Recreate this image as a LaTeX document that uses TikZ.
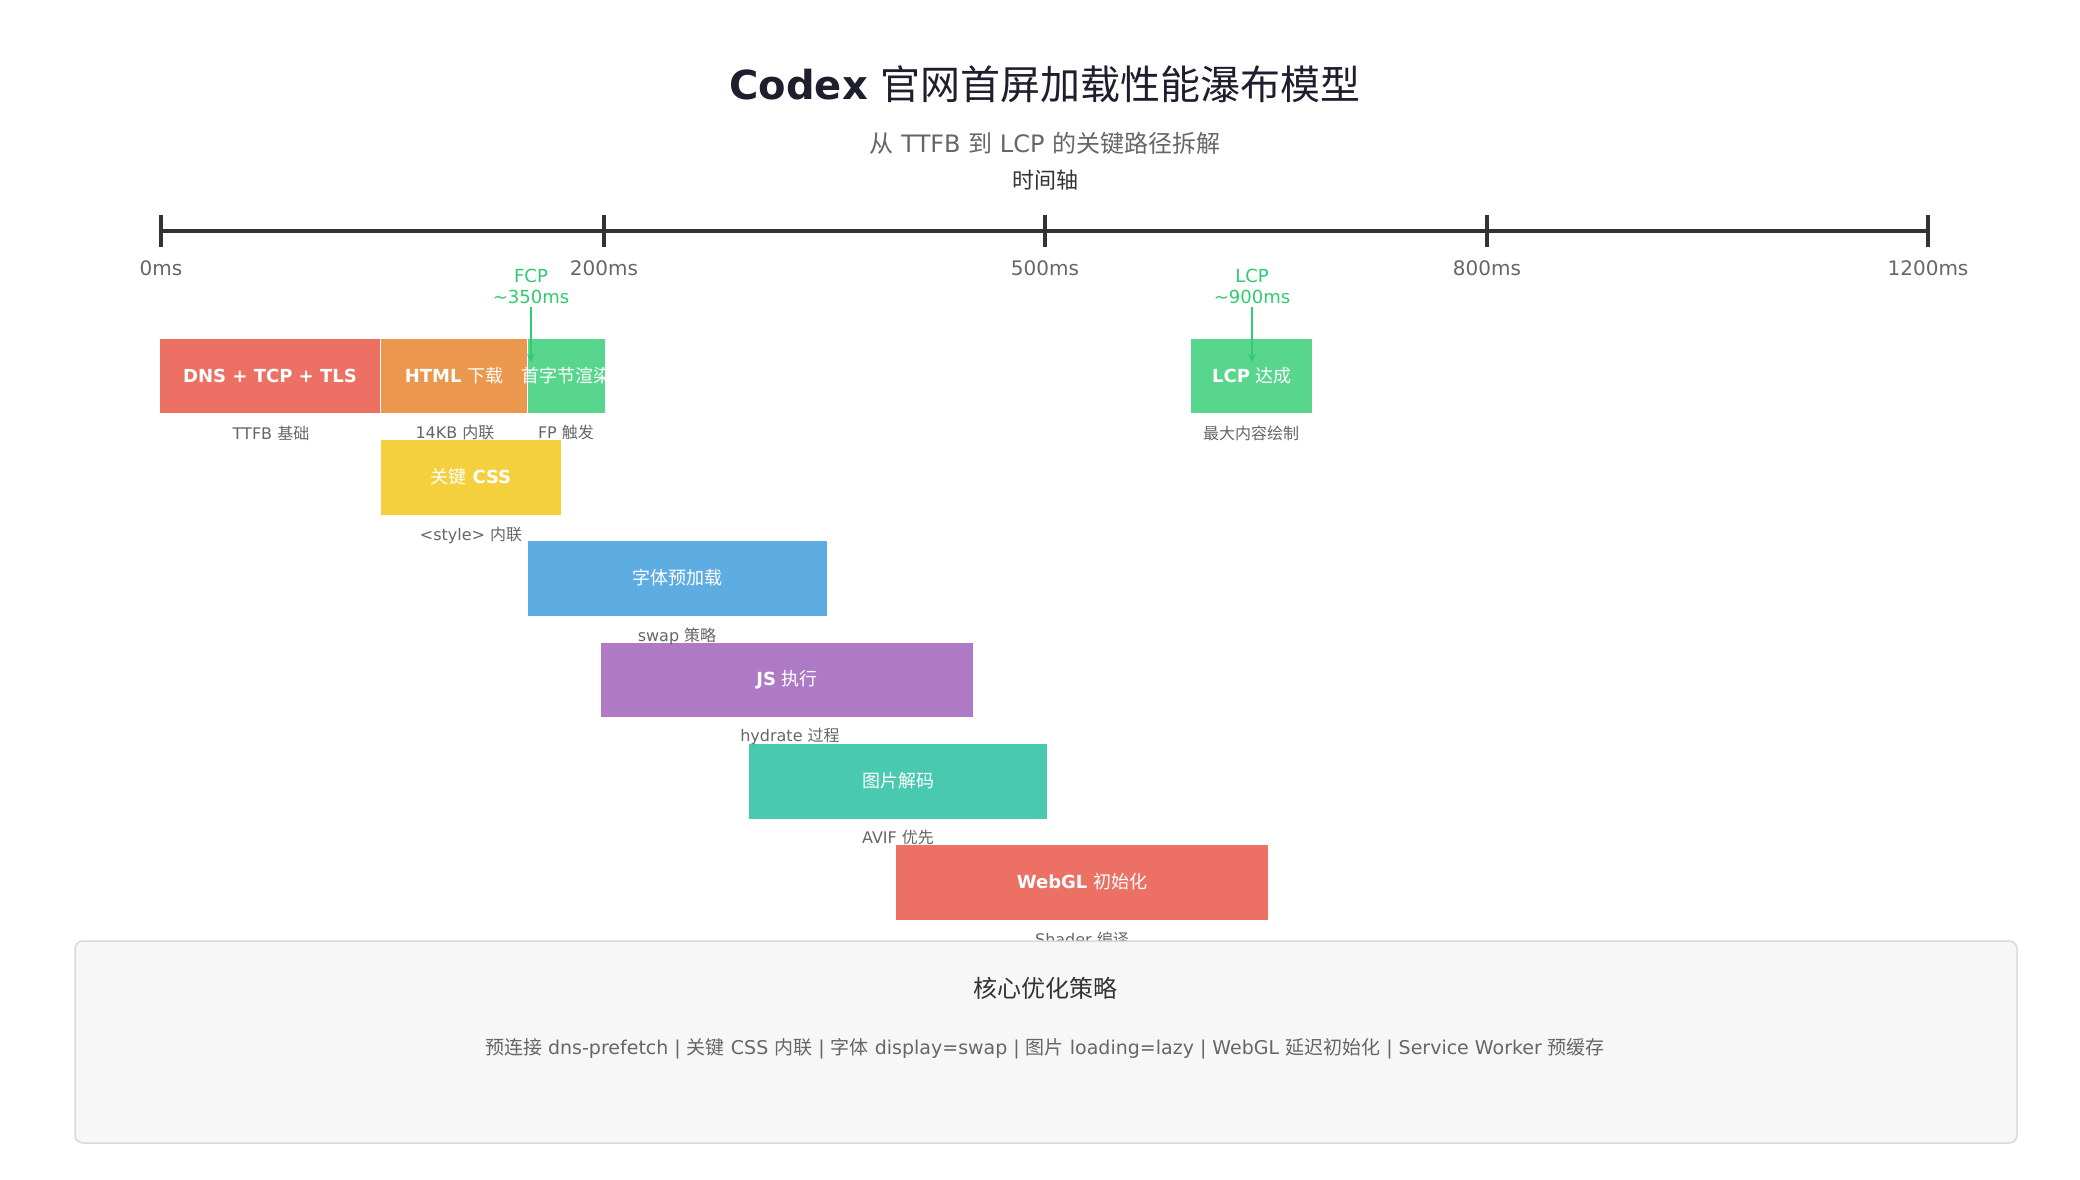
\documentclass[tikz,border=0pt]{standalone}
\usepackage{fontspec}
\setmainfont{DejaVu Sans}
\newfontfamily\cjk{Noto Sans CJK SC}
\usetikzlibrary{positioning}
\definecolor{cRed}{HTML}{EC7063}
\definecolor{cOrange}{HTML}{EB984E}
\definecolor{cGreen}{HTML}{58D68D}
\definecolor{cYellow}{HTML}{F4D03F}
\definecolor{cBlue}{HTML}{5DADE2}
\definecolor{cPurple}{HTML}{AF7AC5}
\definecolor{cTeal}{HTML}{48C9B0}
\definecolor{cMark}{HTML}{2ECC71}
\definecolor{cInk}{HTML}{1E1E2E}
\definecolor{cGrey}{HTML}{666666}
\tikzset{
  bar/.style={text=white,font=\fontsize{18}{20}\selectfont},
  sub/.style={text=cGrey,font=\fontsize{16}{18}\selectfont},
  tick/.style={text=cGrey,font=\fontsize{20}{22}\selectfont},
  milestone/.style={text=cMark,font=\fontsize{18}{21}\selectfont,align=center},
}
\begin{document}
\begin{tikzpicture}[x=1pt,y=-1pt]
	\useasboundingbox (0,0) rectangle (2080,1180);
	\fill[white] (0,0) rectangle (2080,1180);

	% Title
	\node (title) at (1045,84) {\fontsize{40}{44}\selectfont\color{cInk}\textbf{Codex} {\cjk 官网首屏加载性能瀑布模型}};
	\node (subtitle) at (1045,143) {\fontsize{24}{28}\selectfont\color{cGrey}{\cjk 从} TTFB {\cjk 到} LCP {\cjk 的关键路径拆解}};
	\node (axtitle) at (1045,180) {\fontsize{22}{26}\selectfont\color{black!80}\cjk 时间轴};

	% Axis
	\draw[line width=3.5pt,black!80] (161,231) -- (1928,231);
	\foreach \x/\t in {161/0ms,604/200ms,1045/500ms,1487/800ms,1928/1200ms}{
		\draw[line width=3.5pt,black!80] (\x,215) -- (\x,247);
		\node[tick] at (\x,268) {\t};
	}

	% Bars
	\fill[cRed] (160,339) rectangle (380,413);
	\node[bar] (dns) at (270,376) {\textbf{DNS + TCP + TLS}};
	\fill[cOrange] (381,339) rectangle (527,413);
	\node[bar] (html) at (454,376) {\textbf{HTML} {\cjk 下载}};
	\fill[cGreen] (528,339) rectangle (605,413);
	\begin{scope}
		\clip (520,339) rectangle (605,413);
		\node[bar] (fp) at (566,376) {\cjk 首字节渲染};
	\end{scope}
	\fill[cGreen] (1191,339) rectangle (1312,413);
	\node[bar] (lcp) at (1252,376) {\textbf{LCP} {\cjk 达成}};
	\fill[cYellow] (381,440) rectangle (561,515);
	\node[bar] (css) at (471,477) {{\cjk 关键} \textbf{CSS}};
	\fill[cBlue] (528,541) rectangle (827,616);
	\node[bar] (font) at (677,578) {\cjk 字体预加载};
	\fill[cPurple] (601,643) rectangle (973,717);
	\node[bar] (js) at (787,680) {\textbf{JS} {\cjk 执行}};
	\fill[cTeal] (749,744) rectangle (1047,819);
	\node[bar] (img) at (898,781) {\cjk 图片解码};
	\fill[cRed] (896,845) rectangle (1268,920);
	\node[bar] (webgl) at (1082,882) {\textbf{WebGL} {\cjk 初始化}};

	% Sub labels
	\node[sub] at (271,433) {TTFB {\cjk 基础}};
	\node[sub] at (455,432) {14KB {\cjk 内联}};
	\node[sub] at (566,432) {FP {\cjk 触发}};
	\node[sub] at (1251,433) {\cjk 最大内容绘制};
	\node[sub] at (471,535) {<style> {\cjk 内联}};
	\node[sub] at (677,636) {swap {\cjk 策略}};
	\node[sub] at (790,736) {hydrate {\cjk 过程}};
	\node[sub] at (898,837) {AVIF {\cjk 优先}};
	\node[sub] at (1082,939) {Shader {\cjk 编译}};

	% Markers
	\node[milestone] (fcpm) at (531,286) {FCP\\\textasciitilde350ms};
	\draw[cMark,line width=2.5pt,-stealth] (fcpm.south) -- (531,362);
	\node[milestone] (lcpm) at (1252,286) {LCP\\\textasciitilde900ms};
	\draw[cMark,line width=2.5pt,-stealth] (lcpm.south) -- (1252,362);

	% Panel
	\draw[black!15,fill=black!3,line width=1.5pt,rounded corners=8pt] (75,941) rectangle (2017,1143);
	\node (ptitle) at (1045,988) {\fontsize{24}{28}\selectfont\color{black!80}\cjk 核心优化策略};
	\node[sub,font=\fontsize{19}{22}\selectfont] (ptext) at (1045,1049) {{\cjk 预连接} dns-prefetch | {\cjk 关键} CSS {\cjk 内联} | {\cjk 字体} display=swap | {\cjk 图片} loading=lazy | WebGL {\cjk 延迟初始化} | Service Worker {\cjk 预缓存}};
\end{tikzpicture}
\end{document}
